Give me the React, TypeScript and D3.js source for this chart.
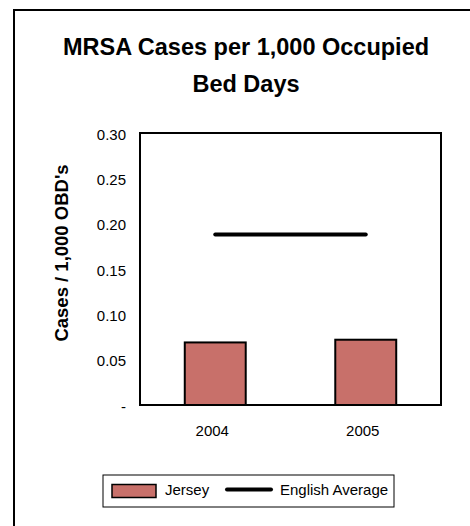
import * as d3 from 'd3';
import { useEffect, useRef } from 'react';

const years = ['2004', '2005'];
const jerseyRates = [0.069, 0.072];
const englishAverage = [0.188, 0.188];
const yTicks = [0, 0.05, 0.1, 0.15, 0.2, 0.25, 0.3];
const titleLines = ['MRSA Cases per 1,000 Occupied', 'Bed Days'];
const yTitle = "Cases / 1,000 OBD's";
const legendLabels = ['Jersey', 'English Average'];

const FONT = '"Liberation Sans", Arial, sans-serif';
const BAR_FILL = '#c8706a';

export default function App() {
	const chartRef = useRef<SVGSVGElement>(null);

	const width = 470;
	const height = 526;

	// plot area
	const margin = { top: 133, left: 140, right: 29, bottom: 121 };

	useEffect(() => {
		const svg = d3.select(chartRef.current);
		svg.selectAll('*').remove();

		const x0 = margin.left;
		const x1 = width - margin.right;
		const y0 = height - margin.bottom;
		const y1 = margin.top;

		const scaleX = d3
			.scaleBand()
			.domain(years)
			.range([x0, x1])
			.paddingInner(0.595)
			.paddingOuter(0.2975);

		const scaleY = d3.scaleLinear().domain([0, 0.3]).range([y0, y1]);

		// рамка всей диаграммы (уходит за край картинки)
		svg
			.append('rect')
			.attr('x', 14)
			.attr('y', 10)
			.attr('width', 464)
			.attr('height', 530)
			.attr('fill', 'white')
			.attr('stroke', 'black')
			.attr('stroke-width', 2);

		// заголовок
		svg
			.append('g')
			.selectAll('text')
			.data(titleLines)
			.enter()
			.append('text')
			.attr('x', 246)
			.attr('y', (_, i) => 55 + i * 37)
			.attr('text-anchor', 'middle')
			.style('font-family', FONT)
			.style('font-weight', 'bold')
			.style('font-size', '23.5px')
			.text((d) => d);

		// рамка области графика
		svg
			.append('rect')
			.attr('x', x0)
			.attr('y', y1)
			.attr('width', x1 - x0)
			.attr('height', y0 - y1)
			.attr('fill', 'white')
			.attr('stroke', 'black')
			.attr('stroke-width', 2);

		// подписи оси Y
		svg
			.append('g')
			.selectAll('text')
			.data(yTicks)
			.enter()
			.append('text')
			.attr('x', 126)
			.attr('y', (d) => scaleY(d) + 6.5)
			.attr('text-anchor', 'end')
			.style('font-family', FONT)
			.style('font-size', '15px')
			.text((d) => (d === 0 ? '-' : d.toFixed(2)));

		svg
			.append('text')
			.attr('transform', `translate(68, 253) rotate(-90)`)
			.attr('text-anchor', 'middle')
			.style('font-family', FONT)
			.style('font-weight', 'bold')
			.style('font-size', '18.5px')
			.text(yTitle);

		// подписи оси X
		svg
			.append('g')
			.selectAll('text')
			.data(years)
			.enter()
			.append('text')
			.attr('x', (d) => scaleX(d)! + scaleX.bandwidth() / 2 - 3)
			.attr('y', 436)
			.attr('text-anchor', 'middle')
			.style('font-family', FONT)
			.style('font-size', '15px')
			.text((d) => d);

		// столбцы Jersey
		svg
			.append('g')
			.selectAll('rect')
			.data(years)
			.enter()
			.append('rect')
			.attr('x', (d) => scaleX(d)!)
			.attr('y', (_, i) => scaleY(jerseyRates[i]))
			.attr('width', scaleX.bandwidth())
			.attr('height', (_, i) => y0 - scaleY(jerseyRates[i]))
			.attr('fill', BAR_FILL)
			.attr('stroke', 'black')
			.attr('stroke-width', 2);

		// линия English Average
		const line = d3
			.line<number>()
			.x((_, i) => scaleX(years[i])! + scaleX.bandwidth() / 2)
			.y((d) => scaleY(d));

		svg
			.append('path')
			.attr('d', line(englishAverage))
			.attr('fill', 'none')
			.attr('stroke', 'black')
			.attr('stroke-width', 4)
			.attr('stroke-linecap', 'round');

		// легенда
		const legend = svg.append('g');
		legend
			.append('rect')
			.attr('x', 103)
			.attr('y', 475)
			.attr('width', 291)
			.attr('height', 32)
			.attr('fill', 'white')
			.attr('stroke', 'black')
			.attr('stroke-width', 1);

		legend
			.append('rect')
			.attr('x', 112)
			.attr('y', 484.5)
			.attr('width', 44)
			.attr('height', 13)
			.attr('fill', BAR_FILL)
			.attr('stroke', 'black')
			.attr('stroke-width', 1.5);

		legend
			.append('line')
			.attr('x1', 227)
			.attr('x2', 271)
			.attr('y1', 489.5)
			.attr('y2', 489.5)
			.attr('stroke', 'black')
			.attr('stroke-width', 4)
			.attr('stroke-linecap', 'round');

		legend
			.selectAll('text')
			.data(legendLabels)
			.enter()
			.append('text')
			.attr('x', (_, i) => (i === 0 ? 165 : 280))
			.attr('y', 495)
			.style('font-family', FONT)
			.style('font-size', '15px')
			.text((d) => d);
	}, []);

	return (
		<svg
			ref={chartRef}
			width={width}
			height={height}
			style={{ position: 'absolute', left: 0, top: 0, background: 'white' }}
		></svg>
	);
}
